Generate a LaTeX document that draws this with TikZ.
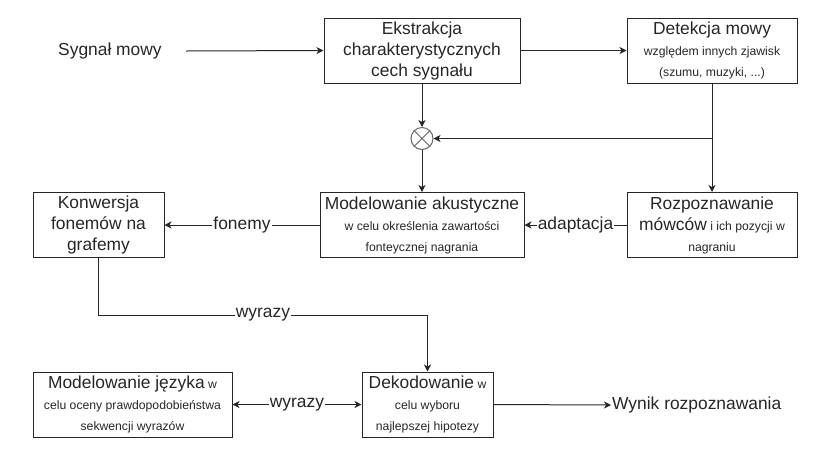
\documentclass[tikz,border=0pt]{standalone}
\usepackage{fontspec}
\setmainfont{Liberation Sans}
\usetikzlibrary{arrows.meta}
\newcommand{\bigf}{\fontsize{17.4}{21}\selectfont}
\newcommand{\smf}{\fontsize{12.2}{21}\selectfont}
\begin{document}
\begin{tikzpicture}[x=1pt,y=-1pt,
  box/.style={draw=black!85,line width=1pt,minimum height=65pt,inner sep=0pt,align=center,font=\smf,text=black!85},
  conn/.style={line width=1pt,draw=black!85},
  arr/.style={conn,-{Stealth[length=7pt,width=7pt,inset=2pt]}},
  lbl/.style={fill=white,inner sep=1pt,font=\bigf,text=black!85},
  plain/.style={font=\bigf,text=black!85,inner sep=1pt}]
\useasboundingbox (0,0) rectangle (840,451);
% boxes
\node[box,minimum width=196pt] (ext) at (422,50.5) {{\bigf Ekstrakcja}\\{\bigf charakterystycznych}\\{\bigf cech sygnału}};
\node[box,minimum width=170pt] (det) at (712,50.5) {{\bigf Detekcja mowy}\\względem innych zjawisk\\(szumu, muzyki, ...)};
\node[box,minimum width=204pt] (ak) at (422,225) {{\bigf Modelowanie akustyczne}\\w celu określenia zawartości\\fonteycznej nagrania};
\node[box,minimum width=170pt] (roz) at (712,225) {{\bigf Rozpoznawanie}\\{\bigf mówców} i ich pozycji w\\nagraniu};
\node[box,minimum width=131pt] (kon) at (98.5,225) {{\bigf Konwersja}\\{\bigf fonemów na}\\{\bigf grafemy}};
\node[box,minimum width=199pt] (jez) at (132.5,404.5) {{\bigf Modelowanie języka} w\\celu oceny prawdopodobieństwa\\sekwencji wyrazów};
\node[box,minimum width=131pt] (dek) at (427.5,404.5) {{\bigf Dekodowanie} w\\celu wyboru\\najlepszej hipotezy};
% circle
\node[draw=black!60,line width=1pt,circle,minimum size=22pt,inner sep=0pt] (mix) at (422,138.5) {};
\draw[black!60,line width=1pt] (mix.north west) -- (mix.south east) (mix.north east) -- (mix.south west);
% free texts
\node[plain,anchor=west] (in) at (57,51) {Sygnał mowy};
\node[plain,anchor=west] (out) at (611,405) {Wynik rozpoznawania};
\coordinate (inend) at (186,51);
\coordinate (detdown) at (712,138.5);
\coordinate (w1) at (98.5,315);
\coordinate (w2) at (427.5,315);
% connectors
\draw[arr] (inend) -- (ext.west);
\draw[arr] (ext.east) -- (det.west);
\draw[arr] (ext.south) -- (mix.north);
\draw[arr] (mix.south) -- (ak.north);
\draw[arr] (det.south) -- (roz.north);
\draw[arr] (detdown) -- (mix.east);
\draw[arr] (ak.west) -- node[lbl] {fonemy} (kon.east);
\draw[arr] (roz.west) -- node[lbl] {adaptacja} (ak.east);
\draw[conn] (kon.south) -- (w1) -- node[lbl] {wyrazy} (w2);
\draw[arr] (w2) -- (dek.north);
\draw[conn,{Stealth[length=7pt,width=7pt,inset=2pt]}-{Stealth[length=7pt,width=7pt,inset=2pt]}] (jez.east) -- node[lbl] {wyrazy} (dek.west);
\draw[arr] (dek.east) -- (out.west);
\end{tikzpicture}
\end{document}
